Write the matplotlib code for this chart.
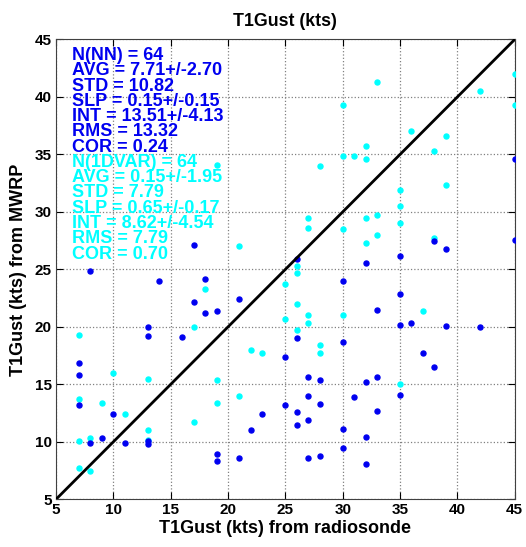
import matplotlib
matplotlib.use("Agg")
import matplotlib.pyplot as plt

plt.rcParams['font.family'] = ['Liberation Sans', 'DejaVu Sans']
plt.rcParams['font.weight'] = 'bold'

# NN retrieval vs radiosonde
nn_x = [8, 14, 17, 18, 17, 21, 18, 19, 13, 13, 16, 25, 7, 7, 7, 10, 25, 23, 22, 8,
        9, 11, 13, 13, 19, 19, 21, 45, 38, 39, 45, 35, 32, 26, 30, 35, 33, 35, 36, 39,
        42, 26, 30, 37, 38, 27, 28, 32, 33, 35, 31, 33, 26, 27, 28, 27, 26, 30, 32, 30,
        27, 28, 32]
nn_y = [24.9, 24.0, 27.1, 24.2, 22.2, 22.4, 21.2, 21.4, 20.0, 19.2, 19.1, 17.4, 16.9, 15.8, 13.2, 12.4, 13.2, 12.4, 11.0, 9.9,
        10.3, 9.9, 10.1, 9.8, 8.9, 8.3, 8.6, 34.6, 27.5, 26.8, 27.6, 26.2, 25.6, 25.9, 24.0, 22.9, 21.5, 20.2, 20.3, 20.1,
        20.0, 19.0, 18.7, 17.7, 16.5, 15.6, 15.4, 15.2, 15.6, 14.1, 13.9, 12.7, 12.6, 14.0, 13.3, 11.9, 11.5, 11.1, 10.4, 9.5,
        8.6, 8.8, 8.1]

# 1DVAR retrieval vs radiosonde
dv_x = [19, 21, 18, 17, 7, 22, 23, 10, 13, 19, 7, 9, 11, 21, 19, 17, 13, 7, 8, 13,
        7, 8, 25, 25, 33, 42, 45, 45, 30, 36, 39, 32, 30, 31, 32, 38, 28, 39, 35, 35,
        27, 27, 30, 32, 33, 35, 33, 32, 38, 26, 26, 26, 27, 30, 27, 37, 26, 28, 28, 35]
dv_y = [34.1, 27.0, 23.3, 20.0, 19.3, 18.0, 17.7, 16.0, 15.5, 15.4, 13.7, 13.4, 12.4, 14.0, 13.4, 11.7, 11.0, 10.1, 10.3, 10.2,
        7.7, 7.5, 23.7, 20.7, 41.3, 40.5, 42.0, 39.3, 39.3, 37.0, 36.6, 35.7, 34.9, 34.9, 34.6, 35.3, 34.0, 32.3, 31.9, 30.5,
        29.5, 28.6, 28.5, 29.5, 29.7, 29.0, 28.0, 27.3, 27.7, 25.3, 24.7, 22.0, 21.0, 21.0, 20.3, 21.4, 19.7, 18.4, 17.7, 15.0]

nn_stats = ["N(NN) = 64", "AVG = 7.71+/-2.70", "STD = 10.82", "SLP = 0.15+/-0.15",
            "INT = 13.51+/-4.13", "RMS = 13.32", "COR = 0.24"]
dv_stats = ["N(1DVAR) = 64", "AVG = 0.15+/-1.95", "STD = 7.79", "SLP = 0.65+/-0.17",
            "INT = 8.62+/-4.54", "RMS = 7.79", "COR = 0.70"]

ticks = [5, 10, 15, 20, 25, 30, 35, 40, 45]
lim = (5, 45)

BLUE = '#0000f0'
CYAN = '#00ffff'

fig = plt.figure(figsize=(5.26, 5.47), dpi=100)
ax = fig.add_axes([0.1065, 0.0872, 0.872, 0.8406])

ax.plot(dv_x, dv_y, 'o', color=CYAN, ms=3.6, mec=CYAN, zorder=3)
ax.plot(nn_x, nn_y, 'o', color=BLUE, ms=3.6, mec=BLUE, zorder=3)
ax.plot(lim, lim, '-', color='black', lw=2, zorder=4)

ax.set_xlim(*lim)
ax.set_ylim(*lim)
ax.set_xticks(ticks)
ax.set_yticks(ticks)
ax.tick_params(direction='in', top=True, right=True, length=5, width=0.8,
               labelsize=11, pad=3)
for lab in ax.get_xticklabels() + ax.get_yticklabels():
    lab.set_fontweight('bold')
ax.grid(True, linestyle=':', color='#808080', linewidth=0.9)
for s in ax.spines.values():
    s.set_color('#404040')
    s.set_linewidth(0.8)

ax.set_title("T1Gust (kts)", fontsize=12.8, fontweight='bold', pad=10)
ax.set_xlabel("T1Gust (kts) from radiosonde", fontsize=13, fontweight='bold', labelpad=2)
ax.set_ylabel("T1Gust (kts) from MWRP", fontsize=13, fontweight='bold', labelpad=5.5)

y0 = 0.965
dy = 0.0332
for i, t in enumerate(nn_stats + dv_stats):
    col = BLUE if i < len(nn_stats) else CYAN
    ax.text(0.034, y0 - i * dy, t, transform=ax.transAxes, color=col,
            fontsize=13, fontweight='bold', va='center', ha='left', zorder=5)

fig.savefig("out.png", dpi=100)
